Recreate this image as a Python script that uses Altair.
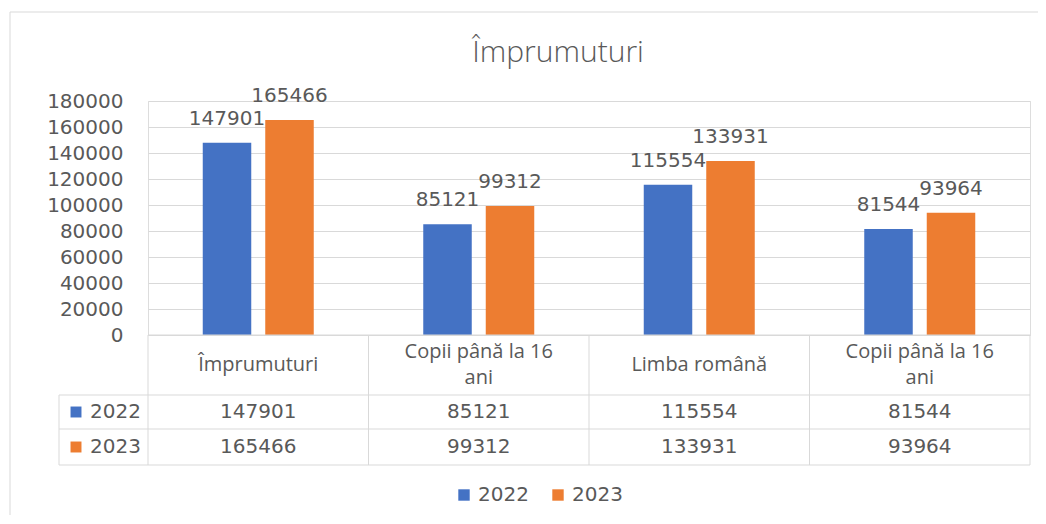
import altair as alt
import pandas as pd

# ---------------- data ----------------
title_text = "Împrumuturi"
categories = ["Împrumuturi", "Copii până la 16\nani", "Limba română", "Copii până la 16\nani"]
years = ["2022", "2023"]
values_2022 = [147901, 85121, 115554, 81544]
values_2023 = [165466, 99312, 133931, 93964]
y_ticks = [0, 20000, 40000, 60000, 80000, 100000, 120000, 140000, 160000, 180000]
colors = ["#4472C4", "#ED7D31"]

rows = []
for i, c in enumerate(categories):
    rows.append({"idx": i, "cat": c, "year": years[0], "value": values_2022[i]})
    rows.append({"idx": i, "cat": c, "year": years[1], "value": values_2023[i]})
df = pd.DataFrame(rows)
cat_df = pd.DataFrame({"idx": list(range(len(categories))), "cat": categories})
one = pd.DataFrame({"d": [0]})

# ---------------- style ----------------
W, H = 882, 234
FONT_NUM = "DejaVu Sans"
FONT_TXT = "Open Sans"
GRID = "#d9d9d9"
TXT = "#595959"
ROW_Y = {"2022": 311, "2023": 346}
HEADER_Y = 264
LINE_H = 26

xs = alt.Scale(paddingInner=0, paddingOuter=0)
x = alt.X("idx:O", scale=xs, axis=None)
xoff = alt.XOffset("year:N", scale=alt.Scale(domain=years, paddingInner=0.224, paddingOuter=0.876))
y = alt.Y(
    "value:Q",
    scale=alt.Scale(domain=[0, 180000], nice=False),
    axis=alt.Axis(
        values=y_ticks, format="d", domain=False, ticks=False, tickSize=0,
        labelPadding=25, labelFont=FONT_NUM, labelFontSize=20, labelColor=TXT,
        labelOverlap=False, gridColor=GRID, title=None,
    ),
)
color = alt.Color(
    "year:N",
    scale=alt.Scale(domain=years, range=colors),
    legend=alt.Legend(
        orient="none", legendX=306, legendY=384, direction="horizontal", title=None,
        symbolType="square", symbolSize=130, symbolStrokeWidth=0,
        labelFont=FONT_NUM, labelFontSize=20, labelColor=TXT,
        columnPadding=19, labelOffset=4, padding=0,
    ),
)

base = alt.Chart(df)

bars = base.mark_bar().encode(x=x, xOffset=xoff, y=y, color=color)
bar_labels = base.mark_text(
    font=FONT_NUM, fontSize=20, color=TXT, baseline="middle", dy=-24
).encode(x=x, xOffset=xoff, y=y, text=alt.Text("value:Q", format="d"))

title = alt.Chart(one).mark_text(
    text=title_text, font=FONT_TXT, fontSize=30, fontWeight=300, color=TXT,
    align="center", baseline="alphabetic",
).encode(x=alt.value(410), y=alt.value(-39))

# ---------------- data table ----------------
header_cfg = dict(font=FONT_TXT, fontSize=20, color=TXT, lineBreak="\n",
                  lineHeight=LINE_H, baseline="middle")
header_one = alt.Chart(cat_df).transform_filter(
    "indexof(datum.cat, '\\n') < 0"
).mark_text(**header_cfg).encode(x=x, y=alt.value(HEADER_Y), text="cat:N")
header_two = alt.Chart(cat_df).transform_filter(
    "indexof(datum.cat, '\\n') >= 0"
).mark_text(**header_cfg).encode(x=x, y=alt.value(HEADER_Y - LINE_H / 2), text="cat:N")

table_layers = []
for yr, col in zip(years, colors):
    table_layers.append(
        base.transform_filter(alt.datum.year == yr).mark_text(
            font=FONT_NUM, fontSize=20, color=TXT, baseline="middle"
        ).encode(x=x, y=alt.value(ROW_Y[yr]), text=alt.Text("value:Q", format="d"))
    )
    table_layers.append(
        alt.Chart(pd.DataFrame({"year": [yr]})).mark_square(size=120, color=col, opacity=1)
        .encode(x=alt.value(-72), y=alt.value(ROW_Y[yr]))
    )
    table_layers.append(
        alt.Chart(pd.DataFrame({"year": [yr]})).mark_text(
            font=FONT_NUM, fontSize=20, color=TXT, align="left", baseline="middle"
        ).encode(x=alt.value(-58), y=alt.value(ROW_Y[yr]), text="year:N")
    )

vlines = alt.Chart(cat_df).mark_rule(color=GRID, strokeWidth=1).encode(
    x=alt.X("idx:O", scale=xs, axis=None, bandPosition=0),
    y=alt.value(234), y2=alt.value(364),
)


def hline(yv, x1, x2):
    return alt.Chart(one).mark_rule(color=GRID, strokeWidth=1).encode(
        x=alt.value(x1), x2=alt.value(x2), y=alt.value(yv)
    )


def vline(xv, y1, y2):
    return alt.Chart(one).mark_rule(color=GRID, strokeWidth=1).encode(
        x=alt.value(xv), y=alt.value(y1), y2=alt.value(y2)
    )


grid_lines = [
    hline(234, 0, W), hline(294, -89, W), hline(328, -89, W), hline(364, -89, W),
    vline(W, 234, 364), vline(-89, 294, 364),
]

border = alt.Chart(one).mark_rect(fillOpacity=0, stroke=GRID, strokeWidth=1).encode(
    x=alt.value(-138), x2=alt.value(1000), y=alt.value(-89), y2=alt.value(500)
)

chart = alt.layer(
    border, bars, bar_labels, title, vlines, *grid_lines,
    header_one, header_two, *table_layers
).properties(
    width=W, height=H,
    autosize=alt.AutoSizeParams(type="none"),
    padding={"left": 140, "top": 93, "right": 8, "bottom": 180},
).configure_view(stroke=None).configure_axis(labelOverlap=False).configure(background="white")

chart.save("out.html", embed_options={"renderer": "svg", "actions": False})
